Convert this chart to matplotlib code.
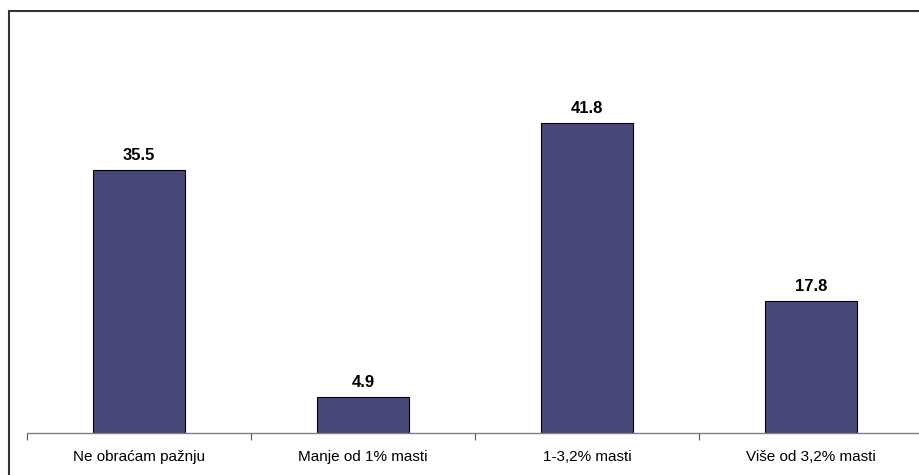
import matplotlib
matplotlib.use("Agg")
import matplotlib.pyplot as plt
from matplotlib.patches import Rectangle

categories = ["Ne obraćam pažnju", "Manje od 1% masti", "1-3,2% masti", "Više od 3,2% masti"]
values = [35.5, 4.9, 41.8, 17.8]

plt.rcParams["font.family"] = ["Liberation Sans", "DejaVu Sans"]

fig = plt.figure(figsize=(9.19, 4.75), dpi=100)
W, H = 919, 475

# axes in pixel terms: x from 27 to 923, baseline y=433, top y=62
ax = fig.add_axes([27 / W, (H - 433) / H, 896 / W, 371 / H])
x = range(len(categories))
bars = ax.bar(x, values, width=0.41, color="#484878", edgecolor="black", linewidth=0.8)
for b, v in zip(bars, values):
    ax.annotate(f"{v:.1f}", (b.get_x() + b.get_width() / 2, v), xytext=(0, 5),
                textcoords="offset points", ha="center", va="bottom",
                fontsize=12, fontweight="bold")

ax.set_xlim(-0.5, 3.5)
ax.set_ylim(0, 50)
ax.set_xticks(list(x))
ax.set_xticklabels(categories, fontsize=11)
ax.set_xticks([i - 0.5 for i in range(len(categories) + 1)], minor=True)
ax.tick_params(axis="x", which="major", length=0, pad=12)
ax.tick_params(axis="x", which="minor", length=5, color="#555555", width=0.8, direction="out")
ax.set_yticks([])
for s in ["top", "right", "left"]:
    ax.spines[s].set_visible(False)
ax.spines["bottom"].set_color("#808080")
ax.spines["bottom"].set_linewidth(1.0)

# outer chart frame
fig.patches.append(Rectangle((8.5 / W, -0.1), 1.2, (H - 10.5) / H + 0.1, transform=fig.transFigure,
                             fill=False, edgecolor="#333333", linewidth=1.5))

fig.savefig("out.png", dpi=100)
